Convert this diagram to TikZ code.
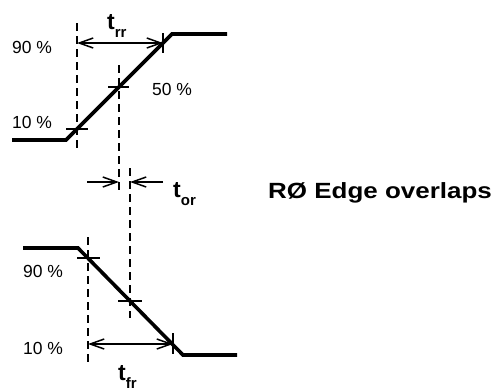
\documentclass[tikz,border=0pt]{standalone}
\usepackage{fontspec}
\setmainfont{Liberation Sans}
\usetikzlibrary{arrows.meta}

\newcommand{\tlabel}[1]{{\fontsize{23}{25}\selectfont\bfseries t}\raisebox{-8pt}{\fontsize{15}{16}\selectfont\bfseries #1}}

\begin{document}
\begin{tikzpicture}[x=1pt, y=-1pt, every node/.style={inner sep=0pt}, >={Straight Barb[length=14pt,width=10pt]}]
		\tikzstyle{wave}=[line width=3.6pt, line join=miter]
		\tikzstyle{level}=[dash pattern=on 8pt off 5pt, line width=1.8pt]
		\tikzstyle{tick}=[line width=1.2pt]
		\tikzstyle{span}=[line width=1.5pt, <->]
		\tikzstyle{pct}=[font=\fontsize{17.5}{19}\selectfont]
		\useasboundingbox (0,0) rectangle (502,391);

    % Rising edge
		\coordinate (rlow) at (12,140);
		\coordinate (rstart) at (66,140);
		\coordinate (rend) at (172,34);
		\coordinate (rhigh) at (227,34);
		\coordinate (r10) at (77,129);
		\coordinate (r50) at (119,87);
		\coordinate (r90) at (163,43);
		\coordinate (r90a) at (77,43);
		\draw[wave] (rlow) -- (rstart) -- (rend) -- (rhigh);

    % Falling edge
		\coordinate (fhigh) at (23,248);
		\coordinate (fstart) at (78,248);
		\coordinate (fend) at (183,355);
		\coordinate (flow) at (237,355);
		\coordinate (f90) at (88,258);
		\coordinate (f50) at (130,301);
		\coordinate (f10) at (173,344);
		\coordinate (f10a) at (88,344);
		\draw[wave] (fhigh) -- (fstart) -- (fend) -- (flow);

    % Dashed guides
		\coordinate (g1t) at (77,23);
		\coordinate (g1b) at (77,152);
		\coordinate (g2t) at (119,65);
		\coordinate (g2b) at (119,192);
		\coordinate (g3t) at (88,237);
		\coordinate (g3b) at (88,363);
		\coordinate (g4t) at (130,168);
		\coordinate (g4b) at (130,318);
		\draw[level] (g1t) -- (g1b);
		\draw[level] (g2t) -- (g2b);
		\draw[level] (g3t) -- (g3b);
		\draw[level] (g4t) -- (g4b);

    % Ticks
		\draw[tick] ([xshift=-11pt]r10) -- ([xshift=11pt]r10);
		\draw[tick] ([xshift=-11pt]r50) -- ([xshift=10pt]r50);
		\draw[tick] ([yshift=10pt]r90) -- ([yshift=-10pt]r90);
		\draw[tick] ([xshift=-11pt]f90) -- ([xshift=12pt]f90);
		\draw[tick] ([xshift=-12pt]f50) -- ([xshift=12pt]f50);
		\draw[tick] ([yshift=11pt]f10) -- ([yshift=-10pt]f10);

    % Time spans
		\draw[span] (r90a) -- (r90);
		\draw[span] (f10a) -- (f10);
		\coordinate (o1) at (87,182);
		\coordinate (o2) at (119,182);
		\coordinate (o3) at (130,182);
		\coordinate (o4) at (163,182);
		\draw[line width=1.5pt, ->] (o1) -- (o2);
		\draw[line width=1.5pt, ->] (o4) -- (o3);

    % Labels
		\node[pct] (p90r) at (32,47) {90 \%};
		\node[pct] (p10r) at (32,122) {10 \%};
		\node[pct] (p50r) at (172,89) {50 \%};
		\node[pct] (p90f) at (43,271) {90 \%};
		\node[pct] (p10f) at (43,348) {10 \%};
		\node[anchor=base west] (trr) at (107,29) {\tlabel{rr}};
		\node[anchor=base west] (tor) at (173,197) {\tlabel{or}};
		\node[anchor=base west] (tfr) at (118,380) {\tlabel{fr}};
		\node[anchor=base west] (title) at (268,198) {\scalebox{1.18}[1]{\fontsize{22}{26}\selectfont\bfseries RØ Edge overlaps}};
  \end{tikzpicture}
\end{document}
